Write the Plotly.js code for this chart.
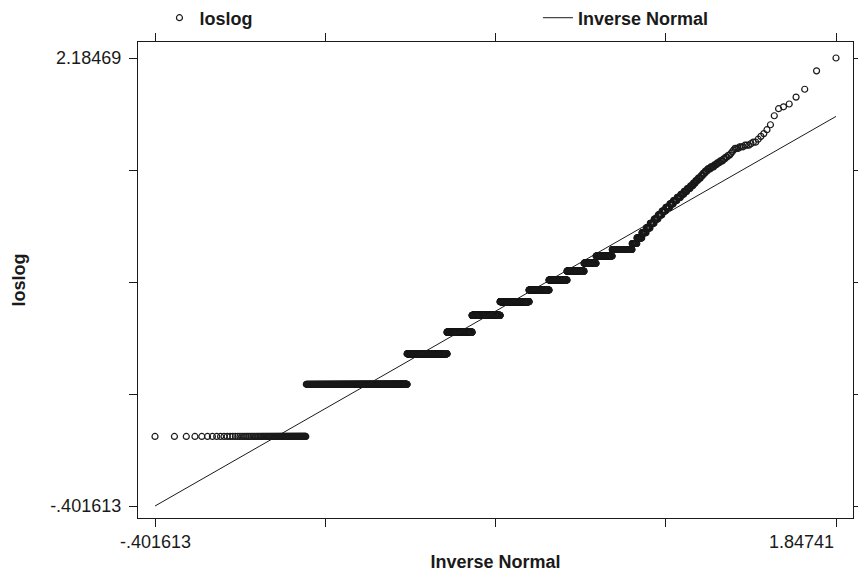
<!DOCTYPE html>
<html>
<head>
<meta charset="utf-8">
<script src="https://cdn.plot.ly/plotly-3.0.1.min.js"></script>
<style>html,body{margin:0;padding:0;background:#fff;}#chart{width:858px;height:573px;}</style>
</head>
<body>
<div id="chart"></div>
<script>
// Length of stay (days) and number of patients with that stay
const losDays = [1,2,3,4,5,6,7,8,9,10,11,12,13,14,15,16,17,18,19,20,21,22,23,24,25,26,27,28,29,30,31,32,33,34,35,36,37,38,39,40,41,42,43,44,45,46,47,48,49,50,52,54,56,59,63,71,78,80,83,91,101,129,153];
const patientCount = [87,478,377,280,333,339,217,177,148,92,107,107,22,21,17,15,14,13,12,11,11,9,9,8,7,6,6,5,4,4,4,3,3,3,4,4,3,3,3,2,2,2,1,1,1,3,3,3,1,2,1,1,1,1,1,1,1,1,1,1,1,1,1];
// Axis labels as printed
const xTickLabels = ["-.401613", "", "", "", "1.84741"];
const yTickLabels = ["-.401613", "", "", "", "2.18469"];
const xLimits = [-0.401613, 1.84741];
const yLimits = [-0.401613, 2.18469];
const seriesNames = ["loslog", "Inverse Normal"];

// inverse standard normal (Acklam)
function invnorm(p){
  const a=[-3.969683028665376e+01,2.209460984245205e+02,-2.759285104469687e+02,1.383577518672690e+02,-3.066479806614716e+01,2.506628277459239e+00];
  const b=[-5.447609879822406e+01,1.615858368580409e+02,-1.556989798598866e+02,6.680131188771972e+01,-1.328068155288572e+01];
  const c=[-7.784894002430293e-03,-3.223964580411365e-01,-2.400758277161838e+00,-2.549732539343734e+00,4.374664141464968e+00,2.938163982698783e+00];
  const d=[7.784695709041462e-03,3.224671290700398e-01,2.445134137142996e+00,3.754408661907416e+00];
  const pl=0.02425, ph=1-pl; let q,r;
  if(p<pl){q=Math.sqrt(-2*Math.log(p));return (((((c[0]*q+c[1])*q+c[2])*q+c[3])*q+c[4])*q+c[5])/((((d[0]*q+d[1])*q+d[2])*q+d[3])*q+1);}
  if(p<=ph){q=p-0.5;r=q*q;return (((((a[0]*r+a[1])*r+a[2])*r+a[3])*r+a[4])*r+a[5])*q/(((((b[0]*r+b[1])*r+b[2])*r+b[3])*r+b[4])*r+1);}
  q=Math.sqrt(-2*Math.log(1-p));return -(((((c[0]*q+c[1])*q+c[2])*q+c[3])*q+c[4])*q+c[5])/((((d[0]*q+d[1])*q+d[2])*q+d[3])*q+1);
}

// sorted loslog values
const ys = [];
losDays.forEach((dd,k)=>{ for(let j=0;j<patientCount[k];j++) ys.push(Math.log10(dd)); });
const n = ys.length;
const mean = (xLimits[0]+xLimits[1])/2;
const sd = (xLimits[1]-mean)/invnorm(n/(n+1));
const xs = ys.map((v,i)=> mean + sd*invnorm((i+1)/(n+1)));

function evenTicks(lim){ const t=[]; for(let i=0;i<5;i++) t.push(lim[0]+(lim[1]-lim[0])*i/4); return t; }
const xTickVals = evenTicks(xLimits);

const ink = '#1a1a1a';
const FONT = 'Liberation Sans, Arial, sans-serif';
const traces = [
  {x: xs, y: ys, type:'scatter', mode:'markers', name: seriesNames[0], legend:'legend',
   marker:{symbol:'circle-open', size:6, color:ink, line:{width:1.2, color:ink}}},
  {x: xLimits, y: xLimits, type:'scatter', mode:'lines', name: seriesNames[1], legend:'legend2',
   line:{color:ink, width:1}}
];

// x tick labels: first centred on its tick, last kept inside the page (right-aligned to its tick)
const annotations = xTickLabels.map((t,i)=>({t,i})).filter(o=>o.t).map(o=>({
  x: xTickVals[o.i], xref:'x', y:0, yref:'paper',
  text: o.t, showarrow:false,
  xanchor: o.i===xTickLabels.length-1 ? 'right' : 'center',
  yanchor:'top', yshift:-12,
  font:{family:FONT, size:18, color:ink}
}));

const axisCommon = {
  showgrid:false, zeroline:false, showline:true, linecolor:ink, linewidth:1.2,
  mirror:'ticks', ticks:'outside', ticklen:8, tickwidth:1, tickcolor:ink,
  tickfont:{family:FONT, size:18, color:ink},
  automargin:false
};
const legendCommon = {orientation:'h', xanchor:'left', y:1.0504, yanchor:'middle',
  font:{family:FONT, size:18, color:ink, weight:'bold'}, bgcolor:'rgba(0,0,0,0)', borderwidth:0};
const layout = {
  width:858, height:573,
  margin:{l:138, r:5, t:42, b:55, autoexpand:false},
  paper_bgcolor:'#fff', plot_bgcolor:'#fff',
  showlegend:true,
  legend: Object.assign({}, legendCommon, {x:0.03}),
  legend2: Object.assign({}, legendCommon, {x:0.5594}),
  annotations: annotations,
  xaxis: Object.assign({}, axisCommon, {
    range:[-0.45775, 1.90355], tickmode:'array', tickvals: xTickVals, showticklabels:false,
    title:{text:'Inverse Normal', standoff:29, font:{family:FONT, size:18, color:ink, weight:'bold'}}
  }),
  yaxis: Object.assign({}, axisCommon, {
    range:[-0.47089, 2.27706], tickmode:'array', tickvals: evenTicks(yLimits), ticktext: yTickLabels,
    ticklabelstandoff:4,
    title:{text:'loslog', standoff:19, font:{family:FONT, size:18, color:ink, weight:'bold'}}
  })
};
Plotly.newPlot('chart', traces, layout, {staticPlot:true, displayModeBar:false});
</script>
</body>
</html>
